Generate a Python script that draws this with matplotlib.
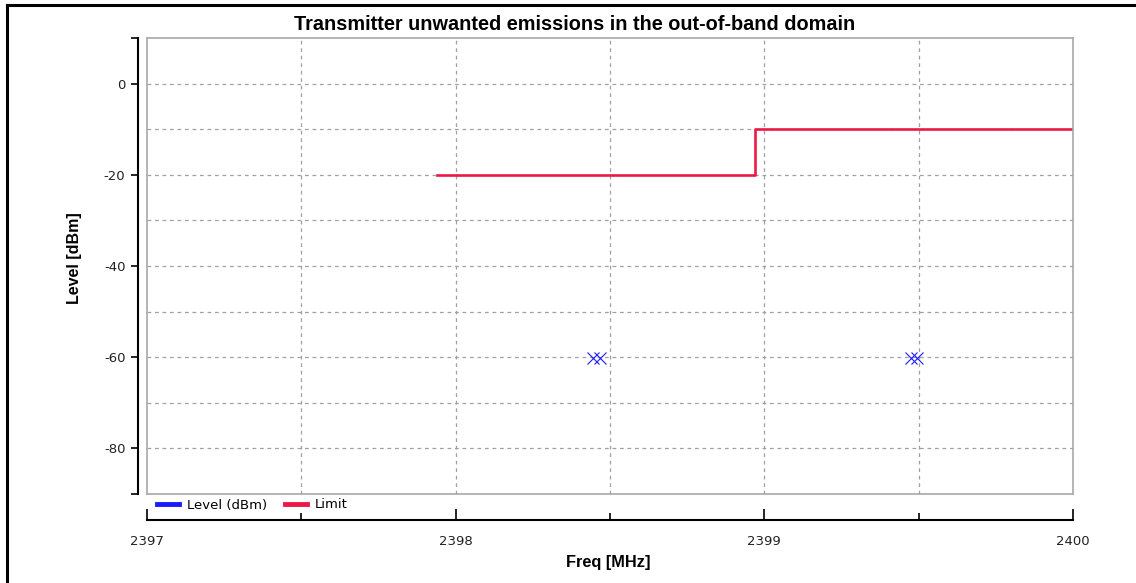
import matplotlib
matplotlib.use("Agg")
import matplotlib.pyplot as plt
from matplotlib.lines import Line2D

# ---- data ----
limit_freq = [2397.94, 2398.97, 2400.0]
limit_level = [-20, -10, -10]
level_freq = [2398.444, 2398.468, 2399.475, 2399.494]
level_val = [-60.2, -60.2, -60.2, -60.2]
x_ticks = [2397, 2398, 2399, 2400]
x_minor = [2397.5, 2398.5, 2399.5]
y_ticks = [-80, -60, -40, -20, 0]
x_range = (2397, 2400)
y_range = (-90, 10)

W, H = 1136, 583
fig = plt.figure(figsize=(W / 100, H / 100), dpi=100)

def fx(px):
    return px / W

def fy(py):
    return 1 - py / H

L, R, T, B = 147, 1073, 38, 494
ax = fig.add_axes([fx(L), fy(B), fx(R - L), (B - T) / H])
ax.set_xlim(*x_range)
ax.set_ylim(*y_range)
for s in ax.spines.values():
    s.set_color('#a8a8a8')
    s.set_linewidth(1.2)
ax.set_xticks([2397.5, 2398, 2398.5, 2399, 2399.5])
ax.set_yticks([-80, -70, -60, -50, -40, -30, -20, -10, 0])
ax.tick_params(length=0, labelbottom=False, labelleft=False)
ax.grid(True, color='#a0a0a0', linestyle=(0, (3, 3)), linewidth=0.9)

red = '#ee1846'
blue = '#1a1aff'
ax.plot(limit_freq, limit_level, drawstyle='steps-post', color=red, lw=1.9)
ax.plot(level_freq, level_val, linestyle='none', marker='x', color=blue,
        markersize=9, markeredgewidth=0.8)

# Y axis (separate)
ay = fig.add_axes([fx(138), fy(B), 0.0001, (B - T) / H])
ay.set_ylim(*y_range)
ay.patch.set_visible(False)
for k in ['top', 'right', 'bottom']:
    ay.spines[k].set_visible(False)
ay.spines['left'].set_linewidth(1.5)
ay.set_xticks([])
ay.set_yticks([-90] + y_ticks + [10])
ay.set_yticklabels([''] + [str(v) for v in y_ticks] + [''])
ay.tick_params(axis='y', direction='out', length=5, width=1.2, labelsize=9.5, pad=4,
               labelcolor='#222222')

# X axis (separate)
axx = fig.add_axes([fx(L), fy(520), fx(R - L), 0.0001])
axx.set_xlim(*x_range)
axx.patch.set_visible(False)
for k in ['top', 'right', 'left']:
    axx.spines[k].set_visible(False)
axx.spines['bottom'].set_linewidth(1.5)
axx.set_yticks([])
axx.set_xticks(x_ticks)
axx.set_xticklabels([str(v) for v in x_ticks])
axx.set_xticks(x_minor, minor=True)
axx.tick_params(axis='x', which='major', direction='in', length=8, width=1.2,
                labelsize=9.5, pad=11, labelcolor='#222222')
axx.tick_params(axis='x', which='minor', direction='in', length=5, width=1.2)

# Titles / labels
fig.text(fx(575), fy(24), 'Transmitter unwanted emissions in the out-of-band domain',
         ha='center', va='center', fontsize=14.3, fontweight='bold',
         family='Liberation Sans')
fig.text(fx(608), fy(563), 'Freq [MHz]', ha='center', va='center', fontsize=11.8,
         fontweight='bold', family='Liberation Sans')
fig.text(fx(74), fy(258), 'Level [dBm]', ha='center', va='center', fontsize=11.5,
         fontweight='bold', family='Liberation Sans', rotation=90)

# Legend
handles = [Line2D([], [], color=blue, lw=3.5), Line2D([], [], color=red, lw=3.5)]
fig.legend(handles, ['Level (dBm)', 'Limit'], loc='center left',
           bbox_to_anchor=(fx(145), fy(505)), ncol=2, frameon=False, fontsize=9.5,
           handlelength=1.7, handletextpad=0.6, columnspacing=1.3)

# Outer frame (top and left black lines)
fig.add_artist(Line2D([fx(7), 1], [fy(5), fy(5)], color='black', lw=2.2,
                      transform=fig.transFigure))
fig.add_artist(Line2D([fx(7), fx(7)], [fy(5), 0], color='black', lw=2.2,
                      transform=fig.transFigure))

fig.savefig('out.png', dpi=100)
